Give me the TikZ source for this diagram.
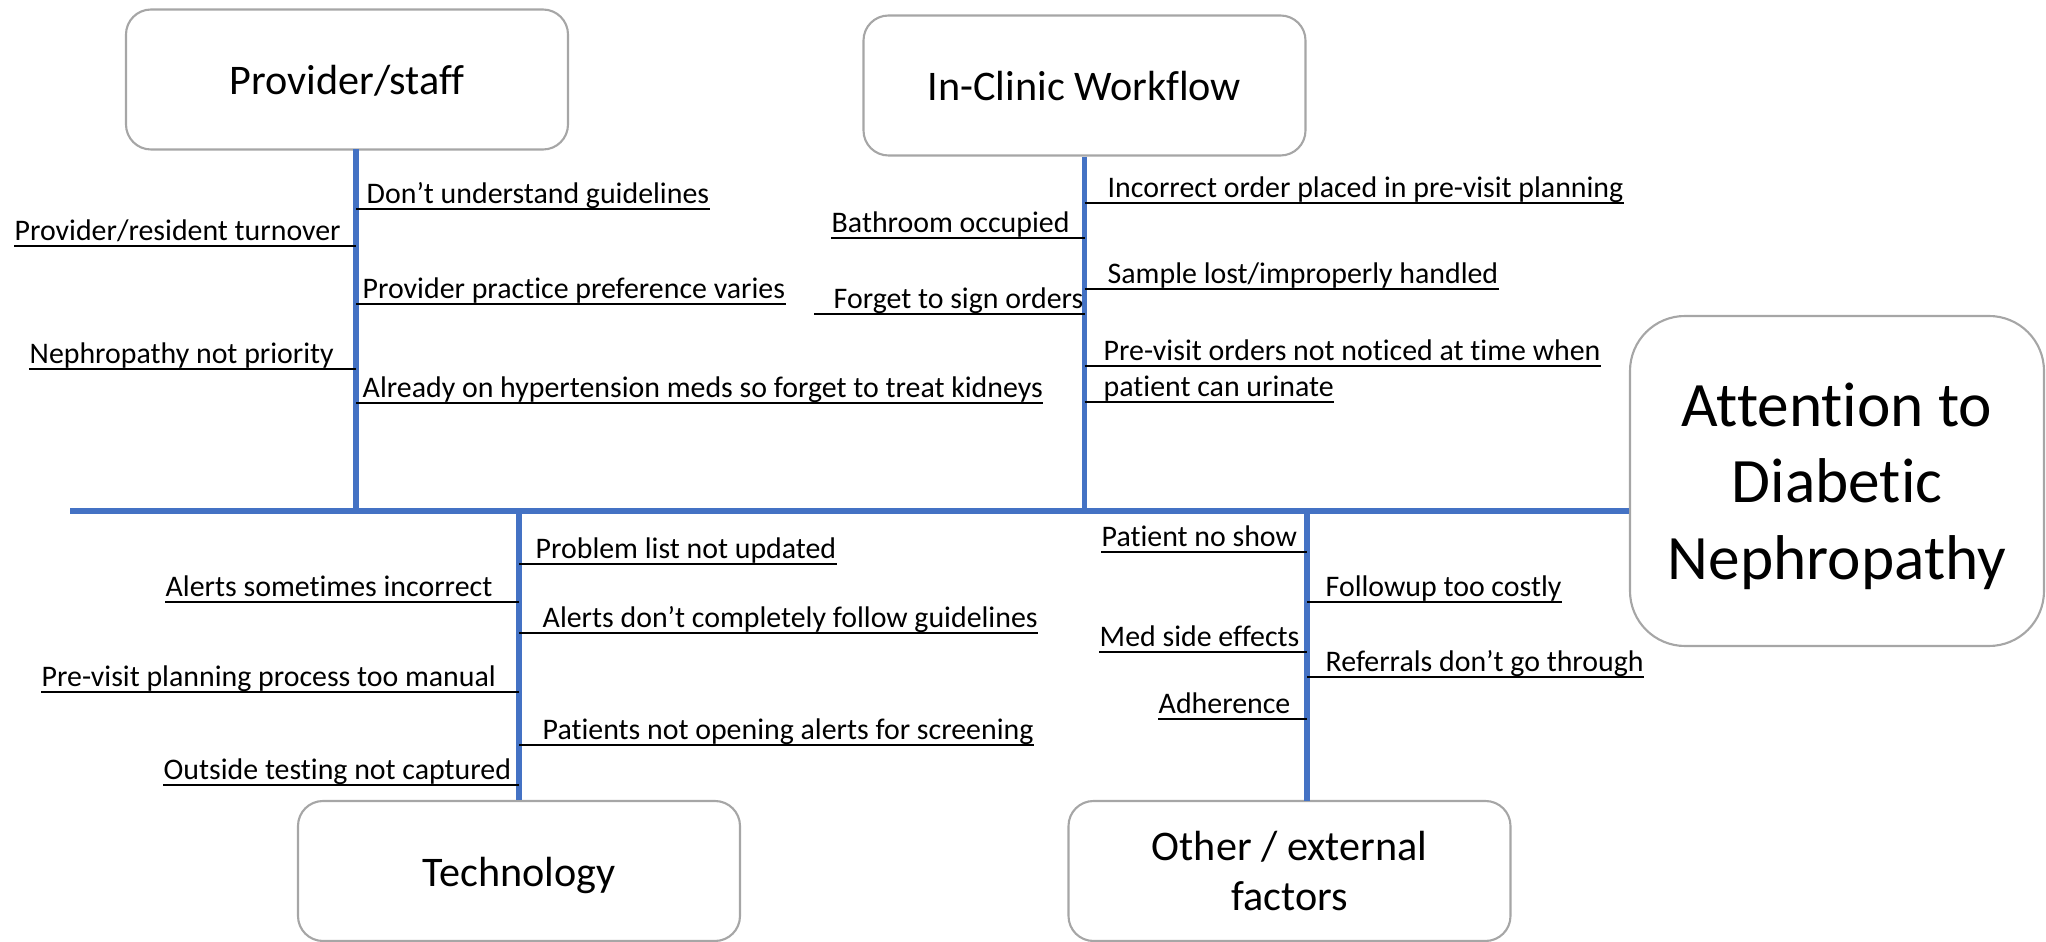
\documentclass[tikz,border=0pt]{standalone}
\usepackage{fontspec}
\setmainfont{Carlito}[Ligatures = NoCommon]

\definecolor{boneblue}{HTML}{4472C4}
\definecolor{boxgray}{HTML}{A6A6A6}

\tikzset{
  catbox/.style = {draw = boxgray, line width = 0.6pt, rounded corners = 0.25cm,
    minimum width = 4.42cm, minimum height = 1.40cm, align = center,
    font = \fontsize{12}{14.2}\selectfont},
  onerow/.style = {text height = 11.5pt, text depth = 2.9pt},
  effbox/.style = {draw = boxgray, line width = 0.6pt, rounded corners = 0.55cm,
    minimum width = 4.14cm, minimum height = 3.30cm, align = center,
    font = \fontsize{18}{21.8}\selectfont},
  bone/.style = {draw = boneblue, line width = 1.5pt},
  cause/.style = {inner sep = 0pt, text depth = 1.5pt, anchor = south west,
    font = \fontsize{8.5}{10}\selectfont},
  uline/.style = {line width = 0.6pt},
}

\begin{document}
\begin{tikzpicture}
  \useasboundingbox (0, 0) rectangle (20.46, -9.42);

  % category boxes and effect
  \node[catbox, onerow] (prov) at (3.47, -0.795) {Provider/staff};
  \node[catbox, onerow] (work) at (10.845, -0.855) {In-Clinic Workflow};
  \node[catbox, onerow] (tech) at (5.19, -8.71) {Technology};
  \node[catbox] (other) at (12.895, -8.71) {Other / external\\factors};
  \node[effbox] (effect) at (18.37, -4.81)
    {\rule{0pt}{15.4pt}Attention to\\Diabetic\\Nephropathy};

  % backbone and bones
  \coordinate (tail) at (0.70, -5.11);
  \coordinate (provbone) at (3.56, -1.495);
  \coordinate (otherbone) at (13.07, -8.01);
  \draw[bone] (tail) -- (tail -| effect.west);
  \draw[bone] (provbone) -- (provbone |- tail);
  \draw[bone] (work.south) -- (work.south |- tail);
  \draw[bone] (tech.north) -- (tech.north |- tail);
  \draw[bone] (otherbone) -- (otherbone |- tail);

  % provider/staff
  \node[cause] (p1) at (3.66, -2.09) {Don’t understand guidelines};
  \draw[uline] (p1.south west -| provbone) -- (p1.south east);
  \node[cause] (p2) at (0.14, -2.46) {Provider/resident turnover};
  \draw[uline] (p2.south west) -- (p2.south west -| provbone);
  \node[cause] (p3) at (3.62, -3.04) {Provider practice preference varies};
  \draw[uline] (p3.south west -| provbone) -- (p3.south east);
  \node[cause] (p4) at (0.29, -3.69) {Nephropathy not priority};
  \draw[uline] (p4.south west) -- (p4.south west -| provbone);
  \node[cause] (p5) at (3.62, -4.03)
    {Already on hypertension meds so forget to treat kidneys};
  \draw[uline] (p5.south west -| provbone) -- (p5.south east);

  % in-clinic workflow
  \node[cause] (w1) at (11.07, -2.03)
    {Incorrect order placed in pre-visit planning};
  \draw[uline] (w1.south west -| work.south) -- (w1.south east);
  \node[cause] (w2) at (8.31, -2.38) {Bathroom occupied};
  \draw[uline] (w2.south west) -- (w2.south west -| work.south);
  \node[cause] (w3) at (11.07, -2.89) {Sample lost/improperly handled};
  \draw[uline] (w3.south west -| work.south) -- (w3.south east);
  \node[cause] (w4) at (8.33, -3.14) {Forget to sign orders};
  \draw[uline] ([xshift = -0.19cm]w4.south west) -- (w4.south west -| work.south);
  \node[cause] (w5) at (11.03, -3.66)
    {Pre-visit orders not noticed at time when};
  \draw[uline] (w5.south west -| work.south) -- (w5.south east);
  \node[cause] (w6) at (11.03, -4.02) {patient can urinate};
  \draw[uline] (w6.south west -| work.south) -- (w6.south east);

  % technology
  \node[cause] (t1) at (5.35, -5.64) {Problem list not updated};
  \draw[uline] (t1.south west -| tech.north) -- (t1.south east);
  \node[cause] (t2) at (1.65, -6.02) {Alerts sometimes incorrect};
  \draw[uline] (t2.south west) -- (t2.south west -| tech.north);
  \node[cause] (t3) at (5.42, -6.33)
    {Alerts don’t completely follow guidelines};
  \draw[uline] (t3.south west -| tech.north) -- (t3.south east);
  \node[cause] (t4) at (0.41, -6.92) {Pre-visit planning process too manual};
  \draw[uline] (t4.south west) -- (t4.south west -| tech.north);
  \node[cause] (t5) at (5.42, -7.45)
    {Patients not opening alerts for screening};
  \draw[uline] (t5.south west -| tech.north) -- (t5.south east);
  \node[cause] (t6) at (1.63, -7.85) {Outside testing not captured};
  \draw[uline] (t6.south west) -- (t6.south west -| tech.north);

  % other / external
  \node[cause] (o1) at (11.01, -5.52) {Patient no show};
  \draw[uline] (o1.south west) -- (o1.south west -| otherbone);
  \node[cause] (o2) at (13.25, -6.02) {Followup too costly};
  \draw[uline] (o2.south west -| otherbone) -- (o2.south east);
  \node[cause] (o3) at (10.99, -6.52) {Med side effects};
  \draw[uline] (o3.south west) -- (o3.south west -| otherbone);
  \node[cause] (o4) at (13.25, -6.77) {Referrals don’t go through};
  \draw[uline] (o4.south west -| otherbone) -- (o4.south east);
  \node[cause] (o5) at (11.58, -7.19) {Adherence};
  \draw[uline] (o5.south west) -- (o5.south west -| otherbone);

\end{tikzpicture}
\end{document}
